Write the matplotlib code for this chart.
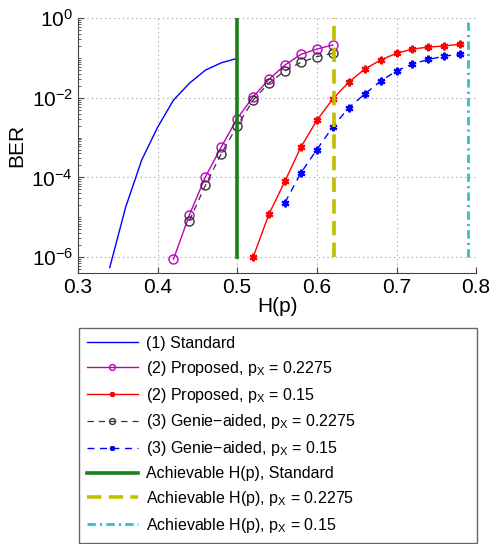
import matplotlib
matplotlib.use('Agg')
import matplotlib.pyplot as plt
from matplotlib.ticker import LogLocator, NullFormatter

plt.rcParams['font.family'] = ['Liberation Sans', 'DejaVu Sans']
plt.rcParams['mathtext.default'] = 'regular'

# (1) standard
h_std = [0.34, 0.36, 0.38, 0.40, 0.42, 0.44, 0.46, 0.48, 0.50]
ber_std = [5.5e-7, 1.8e-5, 2.7e-4, 1.8e-3, 8.7e-3, 2.3e-2, 4.9e-2, 7.5e-2, 9.7e-2]

# (2) proposed, pX = 0.2275
h_p1 = [0.42, 0.44, 0.46, 0.48, 0.50, 0.52, 0.54, 0.56, 0.58, 0.60, 0.62]
ber_p1 = [8.9e-7, 1.15e-5, 1.02e-4, 5.8e-4, 3.0e-3, 1.05e-2, 2.9e-2, 6.6e-2, 0.122, 0.166, 0.21]

# (2) proposed, pX = 0.15
h_p2 = [0.52, 0.54, 0.56, 0.58, 0.60, 0.62, 0.64, 0.66, 0.68, 0.70, 0.72, 0.74, 0.76, 0.78]
ber_p2 = [1.0e-6, 1.22e-5, 8.1e-5, 5.8e-4, 2.7e-3, 9.3e-3, 2.45e-2, 5.2e-2, 8.8e-2,
          0.13, 0.166, 0.186, 0.198, 0.22]

# (3) genie-aided, pX = 0.2275
h_g1 = [0.44, 0.46, 0.48, 0.50, 0.52, 0.54, 0.56, 0.58, 0.60, 0.62]
ber_g1 = [8.3e-6, 6.3e-5, 3.95e-4, 1.95e-3, 8.7e-3, 2.36e-2, 4.7e-2, 7.7e-2, 0.107, 0.13]

# (3) genie-aided, pX = 0.15
h_g2 = [0.56, 0.58, 0.60, 0.62, 0.64, 0.66, 0.68, 0.70, 0.72, 0.74, 0.76, 0.78]
ber_g2 = [2.35e-5, 1.3e-4, 5.0e-4, 1.85e-3, 5.6e-3, 1.23e-2, 2.6e-2, 4.7e-2,
          7.0e-2, 9.1e-2, 0.11, 0.124]

# achievable H(p)
h_ach = [0.5, 0.6215, 0.7895]
ber_span = [1e-6, 1.0]

fig = plt.figure(figsize=(4.96, 5.44), dpi=100)
ax = fig.add_axes([0.157, 0.498, 0.803, 0.469])

ax.plot(h_std, ber_std, '-', color='#0000ff', lw=1.0, label='(1) Standard')
ax.plot(h_p1, ber_p1, '-o', color='#c000c0', lw=1.0, ms=6.5, mfc='none', mew=1.0,
        label='(2) Proposed, p$_X$ = 0.2275')
ax.plot(h_p2, ber_p2, '-', marker=(6, 2, 0), color='#ff0000', lw=1.0, ms=5.5, mew=1.6,
        label='(2) Proposed, p$_X$ = 0.15')
ax.plot(h_g1, ber_g1, '--o', color='#333333', lw=0.9, ms=6.5, mfc='none', mew=1.0,
        dashes=(5, 4), label='(3) Genie\u2212aided, p$_X$ = 0.2275')
ax.plot(h_g2, ber_g2, '--', marker=(6, 2, 0), color='#0000ff', lw=1.0, ms=5.5, mew=1.6,
        dashes=(5, 4), label='(3) Genie\u2212aided, p$_X$ = 0.15')
ax.plot([h_ach[0]] * 2, ber_span, '-', color='#1a801a', lw=2.6,
        label='Achievable H(p), Standard')
ax.plot([h_ach[1]] * 2, ber_span, '--', color='#c0c000', lw=2.6, dashes=(4, 2),
        label='Achievable H(p), p$_X$ = 0.2275')
ax.plot([h_ach[2]] * 2, ber_span, '-.', color='#33c0c0', lw=2.0, dashes=(3, 1.5, 0.8, 1.5),
        label='Achievable H(p), p$_X$ = 0.15')

ax.set_yscale('log')
ax.set_xlim(0.3, 0.8)
ax.set_ylim(4e-7, 1)
ax.set_xticks([0.3, 0.4, 0.5, 0.6, 0.7, 0.8])
ax.set_xticklabels(['0.3', '0.4', '0.5', '0.6', '0.7', '0.8'])
ax.set_yticks([1e-6, 1e-4, 1e-2, 1])
ax.yaxis.set_minor_locator(LogLocator(base=10, subs='all', numticks=20))
ax.yaxis.set_minor_formatter(NullFormatter())
ax.tick_params(which='both', direction='in', labelsize=15, colors='#444444', labelcolor='black')
ax.tick_params(which='major', length=4)
ax.tick_params(which='minor', length=2)
ax.grid(True, which='major', linestyle=(0, (1, 3)), color='#999999', lw=0.8)

for s in ['top', 'right']:
    ax.spines[s].set_visible(False)
for s in ['left', 'bottom']:
    ax.spines[s].set_color('#444444')

ax.set_xlabel('H(p)', fontsize=15, labelpad=0)
ax.set_ylabel('BER', fontsize=15, labelpad=4)

leg = fig.legend(loc='upper left', bbox_to_anchor=(0.159, 0.0, 0.803, 0.397),
                 mode='expand', fontsize=11.5, handlelength=3.2, handletextpad=0.5,
                 labelspacing=0.49, borderpad=0.5, fancybox=False, framealpha=1,
                 edgecolor='#666666', borderaxespad=0, markerscale=0.65)
leg.get_frame().set_linewidth(1.0)

fig.savefig('out.png', dpi=100)
